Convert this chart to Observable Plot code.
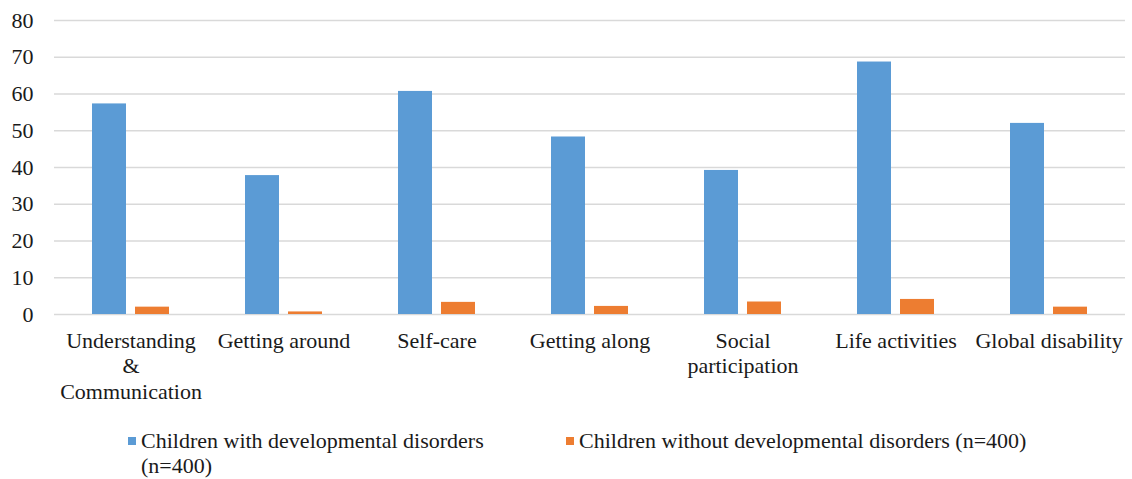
<!DOCTYPE html>
<html>
<head>
<meta charset="utf-8">
<script src="https://cdn.jsdelivr.net/npm/d3@7"></script>
<script src="https://cdn.jsdelivr.net/npm/@observablehq/plot@0.6"></script>
<style>
  html, body { margin: 0; padding: 0; background: #fff; }
  #wrap { position: relative; width: 1132px; height: 479px; font-family: "Liberation Serif", "DejaVu Serif", serif; }
  #legend { position: absolute; left: 128px; top: 428px; display: flex; font-size: 22px; color: #1a1a1a; line-height: 25px; }
  .item { display: flex; align-items: flex-start; }
  .sw { width: 8px; height: 8px; margin-top: 9px; margin-right: 5px; flex: none; }
  svg text { font-family: "Liberation Serif", "DejaVu Serif", serif; }
</style>
</head>
<body>
<div id="wrap"></div>
<script>
const categories = ["Understanding\n&\nCommunication", "Getting around", "Self-care", "Getting along", "Social\nparticipation", "Life activities", "Global disability"];
const series = ["Children with developmental disorders (n=400)", "Children without developmental disorders (n=400)"];
const withDD = [57.3, 37.8, 60.7, 48.3, 39.2, 68.7, 52.0];
const withoutDD = [2.0, 0.7, 3.3, 2.2, 3.4, 4.1, 2.0];
const yTicks = [0, 10, 20, 30, 40, 50, 60, 70, 80];
const colors = ["#5b9bd5", "#ed7d31"];

const data = categories.flatMap((c, i) => [
  {category: c, series: series[0], value: withDD[i]},
  {category: c, series: series[1], value: withoutDD[i]}
]);

const chart = Plot.plot({
  width: 1132,
  height: 410,
  marginLeft: 52,
  marginRight: 5,
  marginTop: 20,
  marginBottom: 96,
  style: {fontFamily: "'Liberation Serif', 'DejaVu Serif', serif", fontSize: "22px", color: "#1a1a1a", background: "#fff"},
  fx: {domain: categories, padding: 0, label: null},
  x: {domain: series, paddingInner: 0.21, paddingOuter: 0.88, axis: null},
  y: {domain: [0, 80], label: null},
  color: {domain: series, range: colors},
  marks: [
    Plot.gridY(yTicks, {stroke: "#d9d9d9", strokeOpacity: 1, strokeWidth: 1.3}),
    Plot.barY(data, {fx: "category", x: "series", y: "value", fill: "series"}),
    Plot.axisY(yTicks, {tickSize: 0, tickPadding: 21, fontSize: 22, label: null}),
    Plot.axisFx({anchor: "bottom", tickSize: 0, tickPadding: 15, lineHeight: 1.16, fontSize: 22, label: null})
  ]
});

const wrap = document.getElementById("wrap");
wrap.appendChild(chart);

const legend = document.createElement("div");
legend.id = "legend";
const widths = [438, 600];
const textWidths = [400, 580];
series.forEach((s, i) => {
  const item = document.createElement("div");
  item.className = "item";
  item.style.width = widths[i] + "px";
  const sw = document.createElement("div");
  sw.className = "sw";
  sw.style.background = colors[i];
  const lab = document.createElement("div");
  lab.style.maxWidth = textWidths[i] + "px";
  lab.textContent = s;
  item.appendChild(sw);
  item.appendChild(lab);
  legend.appendChild(item);
});
wrap.appendChild(legend);
</script>
</body>
</html>
